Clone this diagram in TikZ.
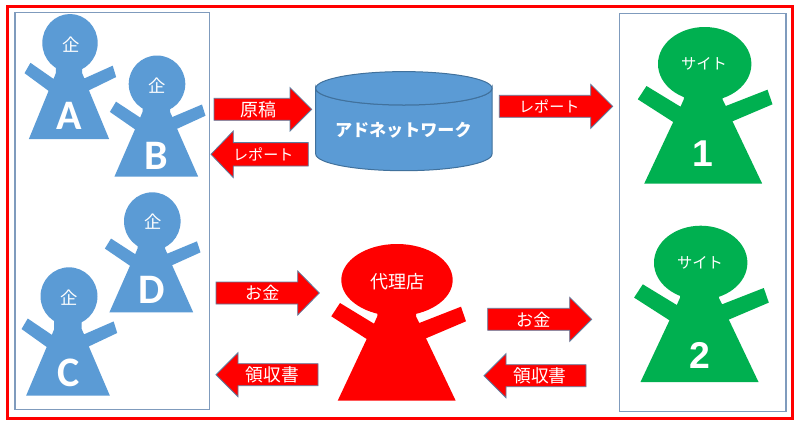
\documentclass[tikz,border=0pt]{standalone}
\usepackage{fontspec}
\newfontfamily\jp{Noto Sans CJK JP}
\newfontfamily\carl{Carlito}
\newfontfamily\lib{Liberation Sans}
\definecolor{blueF}{HTML}{5B9BD5}
\definecolor{blueS}{HTML}{41719C}
\definecolor{arrowS}{HTML}{5A7DA0}
\definecolor{greenF}{HTML}{00B050}
\definecolor{frameS}{HTML}{7F9BBD}
\tikzset{
  jptext/.style={text=white,inner sep=0pt,font=\jp\fontsize{#1}{#1}\selectfont},
  letterA/.style={text=white,inner sep=0pt,font=\carl\bfseries\fontsize{31.5}{32}\selectfont},
  digit/.style={text=white,inner sep=0pt,font=\lib\bfseries\fontsize{28}{30}\selectfont},
  redarrow/.style={fill=red,draw=arrowS,line width=0.6pt,line join=miter},
  panel/.style={draw=frameS,line width=0.8pt,fill=white}
}
% \person{base}{xscale}{yscale}{head centre}{rx}{ry}{colour}
\newcommand{\person}[7]{%
  \fill[#7,shift={#1},xscale=#2,yscale=#3]
    (-59,0) -- (-30,-61.7) -- (-65.4,-84.4) -- (-56.7,-97.7) -- (-22.7,-77)
    -- (-19.4,-84.4) -- (-19.4,-98) -- (19.3,-98) -- (19.3,-84.4) -- (22.6,-77.7)
    -- (64.3,-94) -- (69.3,-79.4) -- (29.3,-62.4) -- (59,0) -- cycle;
  \fill[#7] #4 ellipse [x radius=#5,y radius=#6];
}
% \rarrow{name}{tail}{head base}{tip}{cy}{body half}{head half}{label size}{label x}
\newcommand{\rarrow}[9]{%
  \draw[redarrow] (#2,#5-#6) -- (#3,#5-#6) -- (#3,#5-#7) -- (#4,#5) -- (#3,#5+#7)
    -- (#3,#5+#6) -- (#2,#5+#6) -- cycle;
  \node[jptext=#8] (#1) at (#9,#5) {\arrowlabel};
}
\begin{document}
\begin{tikzpicture}[x=0.75pt,y=-0.75pt]
\useasboundingbox (0,0) rectangle (800,426);
\fill[white] (0,0) rectangle (800,426);
\draw[red,line width=2pt] (7.5,6.5) rectangle (792.5,418.5);
\draw[panel] (15,12.5) rectangle (209.5,409.5);
\draw[panel] (619.5,13.5) rectangle (786,411.5);

% advertisers
\person{(69,139)}{0.68}{0.78}{(70,43)}{27.7}{29}{blueF}
\node[jptext=13] (kiA) at (70.7,45) {企};
\node[letterA] (lA) at (69.3,115.7) {A};
\person{(156.3,176.7)}{0.71}{0.768}{(157,84)}{28.3}{28.5}{blueF}
\node[jptext=13] (kiB) at (157.3,85.7) {企};
\node[letterA] (lB) at (156.7,156) {B};
\person{(151.3,312.3)}{0.71}{0.755}{(152.3,221.3)}{28.3}{29}{blueF}
\node[jptext=13] (kiD) at (152.7,221.3) {企};
\node[letterA] (lD) at (151.7,290.3) {D};
\person{(68,395.7)}{0.71}{0.79}{(69,296.3)}{28.5}{29}{blueF}
\node[jptext=13] (kiC) at (69.3,297.3) {企};
\node[letterA] (lC) at (68.7,373) {C};

% agency and sites
\person{(396.7,400.7)}{1}{1}{(397,280)}{55.7}{36}{red}
\node[jptext=13.5] (agency) at (397.3,282) {代理店};
\person{(703.2,183.7)}{1}{1}{(704.7,64)}{46.7}{37}{greenF}
\node[jptext=11.5] (site1) at (704,64) {サイト};
\node[digit] (n1) at (703,153.5) {1};
\person{(699.5,382)}{1}{1}{(700.7,262.7)}{46.7}{37}{greenF}
\node[jptext=11.5] (site2) at (700,262.7) {サイト};
\node[digit] (n2) at (700,355) {2};

% ad network cylinder
\draw[fill=blueF,draw=blueS,line width=0.75pt]
  (315.7,88.3) arc [start angle=180,end angle=360,x radius=88.15,y radius=-16.7]
  -- (492,154) arc [start angle=0,end angle=-180,x radius=88.15,y radius=-16.7] -- cycle;
\draw[fill=blueF,draw=blueS,line width=0.75pt] (403.85,88.3) ellipse [x radius=88.15,y radius=16.7];
\node[jptext=12.8,font=\jp\bfseries\fontsize{12.8}{13}\selectfont] (net) at (403.3,130) {アドネットワーク};

% arrows
\def\arrowlabel{原稿}\rarrow{a1}{214}{290}{311.7}{109.3}{11}{21.7}{13.5}{258}
\def\arrowlabel{レポート}\rarrow{a2}{308.3}{233.3}{211}{154.3}{11.7}{23.3}{11.3}{263.3}
\def\arrowlabel{レポート}\rarrow{a3}{499.3}{590.7}{612.7}{106.3}{11}{22}{11.3}{549.3}
\def\arrowlabel{お金}\rarrow{a4}{216}{297.7}{319.3}{293}{11}{22}{12.8}{262.3}
\def\arrowlabel{領収書}\rarrow{a5}{318}{238}{216}{374.7}{11}{22}{13.3}{272.3}
\def\arrowlabel{お金}\rarrow{a6}{487.7}{569.7}{591.7}{319.3}{11}{22}{12.8}{533.3}
\def\arrowlabel{領収書}\rarrow{a7}{586}{506}{484}{375.7}{11}{22}{13.3}{540}
\end{tikzpicture}
\end{document}
